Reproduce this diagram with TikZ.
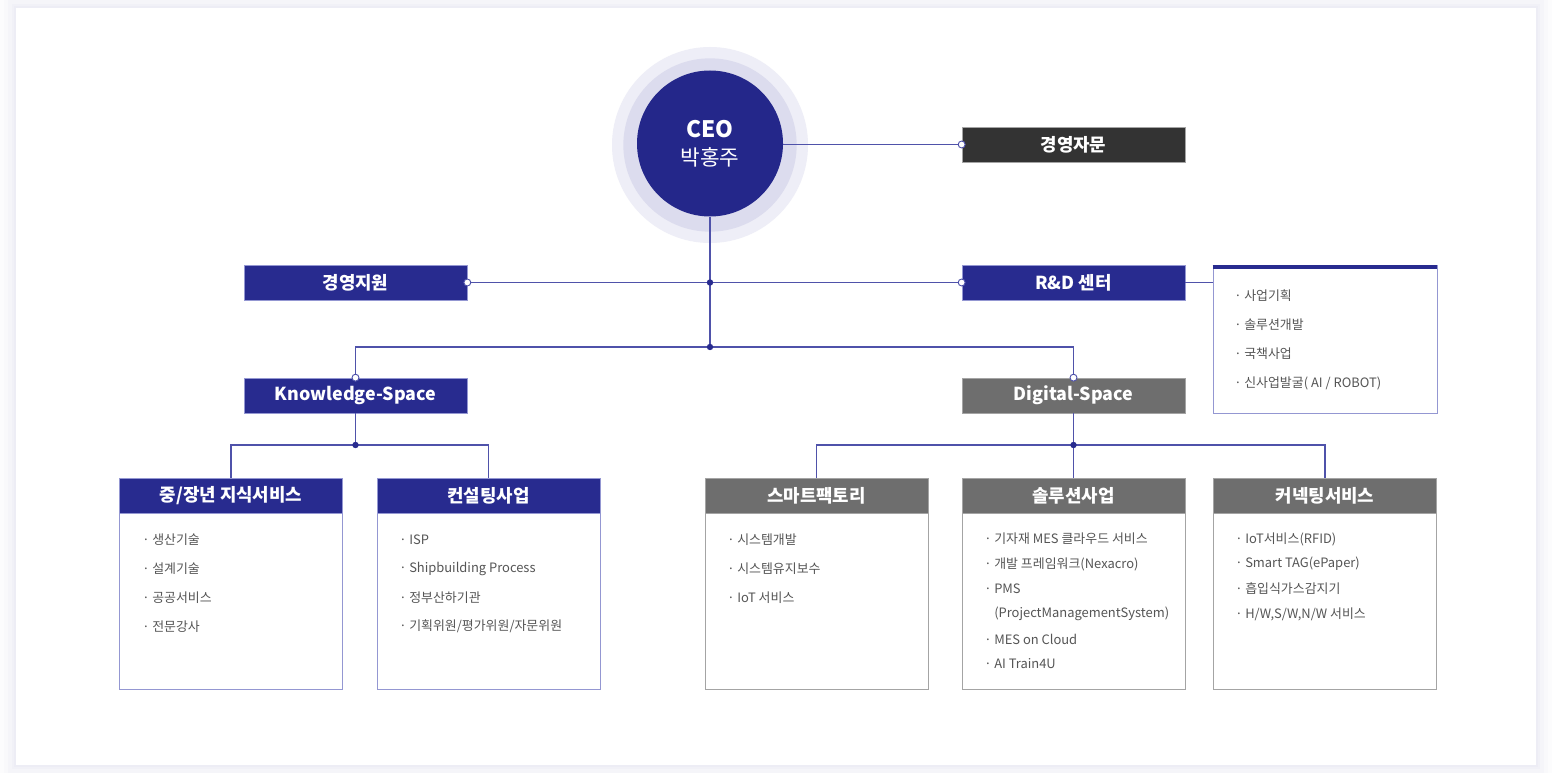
\documentclass[tikz,border=0pt]{standalone}
\usepackage{fontspec}
\setmainfont{Noto Sans CJK KR}
\usetikzlibrary{calc}
\definecolor{navy}{HTML}{282B8F}
\definecolor{ceonavy}{HTML}{24278A}
\definecolor{lav}{HTML}{9497D2}
\definecolor{lineblue}{HTML}{4F52AA}
\definecolor{boxgray}{HTML}{6E6E6E}
\definecolor{bordgray}{HTML}{A4A4A4}
\definecolor{darkbox}{HTML}{333333}
\definecolor{txt}{HTML}{555555}
\definecolor{ringa}{HTML}{DCDCEE}
\definecolor{ringb}{HTML}{EEEEF7}
\definecolor{shadowc}{HTML}{E8E8F4}
\newcommand\bul{\makebox[7.5pt][l]{·}}
\newcommand\hfont{\bfseries\fontsize{13.4}{15}\selectfont}
\newcommand\ifont{\fontsize{9.7}{11}\selectfont}
\begin{document}
\begin{tikzpicture}[x=0.75pt,y=-0.75pt,
 hdr/.style={minimum width=167.25pt,minimum height=26.25pt,inner sep=0pt,text=white,font=\hfont},
 navyhdr/.style={hdr,fill=navy,draw=lav,line width=0.5pt},
 grayhdr/.style={hdr,fill=boxgray,draw=bordgray,line width=0.5pt},
 darkhdr/.style={hdr,fill=darkbox,draw=bordgray,line width=0.5pt},
 navybody/.style={draw=lav,fill=white,line width=0.7pt,minimum width=167.25pt,minimum height=158.25pt,inner sep=0pt},
 graybody/.style={draw=bordgray,fill=white,line width=0.7pt,minimum width=167.25pt,minimum height=158.25pt,inner sep=0pt},
 item/.style={anchor=west,inner sep=0pt,text=txt,font=\ifont},
 conn/.style={draw=lineblue,line width=0.8pt},
 odot/.style={draw=lineblue,fill=white,line width=0.7pt},
 jdot/.style={fill=navy}
]
\useasboundingbox (0,0) rectangle (1552,773);
\fill[white] (0,0) rectangle (1552,773);
\foreach \k/\o in {16/0.10,12/0.15,8/0.2,4/0.3,2/0.35}
  \fill[shadowc,opacity=\o] (16-\k,8-\k) rectangle (1536+\k,765+\k);
\fill[white] (16,8) rectangle (1536,765);

% CEO
\fill[ringb] (710,145) circle (73.5pt);
\fill[ringa] (710,145) circle (65pt);
\node[circle,fill=ceonavy,minimum size=109.5pt,inner sep=0pt,text=white,align=center] (ceo) at (710,143.5)
  {{\bfseries\fontsize{17}{19}\selectfont CEO}\\[6pt]{\fontsize{16}{18}\selectfont 박홍주}};

% top level boxes
\node[darkhdr] (adv) at (1073.5,144.5) {경영자문};
\node[navyhdr] (mgmt) at (355.5,282.5) {경영지원};
\node[navyhdr] (rd) at (1073.5,282.5) {R\&D 센터};
\node[navyhdr] (ks) at (355.5,395.5) {Knowledge-Space};
\node[grayhdr] (ds) at (1073.5,395.5) {Digital-Space};

% R&D info box
\node[draw=lav,fill=white,line width=0.7pt,minimum width=168pt,minimum height=111pt,inner sep=0pt] (rdinfo) at (1325,339) {};
\draw[navy,line width=3pt] ([yshift=-1.5pt]rdinfo.north west) -- ([yshift=-1.5pt]rdinfo.north east);
\foreach \t [count=\i] in {사업기획,솔루션개발,국책사업,신사업발굴( AI / ROBOT)}
  \node[item] (rdi\i) at (1234,296+29*\i-29) {\bul\t};

% junctions
\coordinate (j1) at (710,282.5);
\coordinate (j2) at (710,347);
\coordinate (j3) at (355.5,445);
\coordinate (j4) at (1073.5,445);

% child boxes
\node[navybody] (b1) at (231,583.5) {};
\node[navyhdr] (c1) at (231,495.5) {중/장년 지식서비스};
\node[navybody] (b2) at (488.5,583.5) {};
\node[navyhdr] (c2) at (488.5,495.5) {컨설팅사업};
\node[graybody] (b3) at (816.5,583.5) {};
\node[grayhdr] (c3) at (816.5,495.5) {스마트팩토리};
\node[graybody] (b4) at (1073.5,583.5) {};
\node[grayhdr] (c4) at (1073.5,495.5) {솔루션사업};
\node[graybody] (b5) at (1325,583.5) {};
\node[grayhdr] (c5) at (1325,495.5) {커넥팅서비스};

% items
\foreach \t [count=\i] in {생산기술,설계기술,공공서비스,전문강사}
  \node[item] (i1\i) at (142,539.5+29*\i-29) {\bul\t};
\foreach \t [count=\i] in {ISP,Shipbuilding Process,정부산하기관,기획위원/평가위원/자문위원}
  \node[item] (i2\i) at (399,539.5+29*\i-29) {\bul\t};
\foreach \t [count=\i] in {시스템개발,시스템유지보수,IoT 서비스}
  \node[item] (i3\i) at (727,539.5+29*\i-29) {\bul\t};
\node[item] (i41) at (984,539) {\bul 기자재 MES 클라우드 서비스};
\node[item] (i42) at (984,564) {\bul 개발 프레임워크(Nexacro)};
\node[item] (i43) at (984,589) {\bul PMS};
\node[item] (i44) at (984,614) {\hspace*{7.5pt}(ProjectManagementSystem)};
\node[item] (i45) at (984,639) {\bul MES on Cloud};
\node[item] (i46) at (984,664) {\bul AI Train4U};
\foreach \t [count=\i] in {IoT서비스(RFID),Smart TAG(ePaper),흡입식가스감지기,{H/W,S/W,N/W 서비스}}
  \node[item] (i5\i) at (1235,539+25*\i-25) {\bul\t};

% connectors
\draw[conn] (adv.west -| ceo.east) -- (adv.west);
\draw[conn,line width=1pt] (ceo.south) -- (j2);
\draw[conn] (mgmt.east) -- (rd.west);
\draw[conn] (rd.east) -- (rd.east -| rdinfo.west);
\draw[conn] (j2) -| (ks.north);
\draw[conn] (j2) -| (ds.north);
\draw[conn] (ks.south) -- (j3);
\draw[conn] (j3) -| (c1.north);
\draw[conn] (j3) -| (c2.north);
\draw[conn] (ds.south) -- (j4);
\draw[conn] (j4) -| (c3.north);
\draw[conn] (j4) -- (c4.north);
\draw[conn] (j4) -| (c5.north);

% markers
\foreach \p in {adv.west,mgmt.east,rd.west,ks.north,ds.north}
  \draw[odot] (\p) circle (2.6pt);
\foreach \p in {j1,j2,j3,j4}
  \fill[jdot] (\p) circle (2.4pt);
\end{tikzpicture}
\end{document}
